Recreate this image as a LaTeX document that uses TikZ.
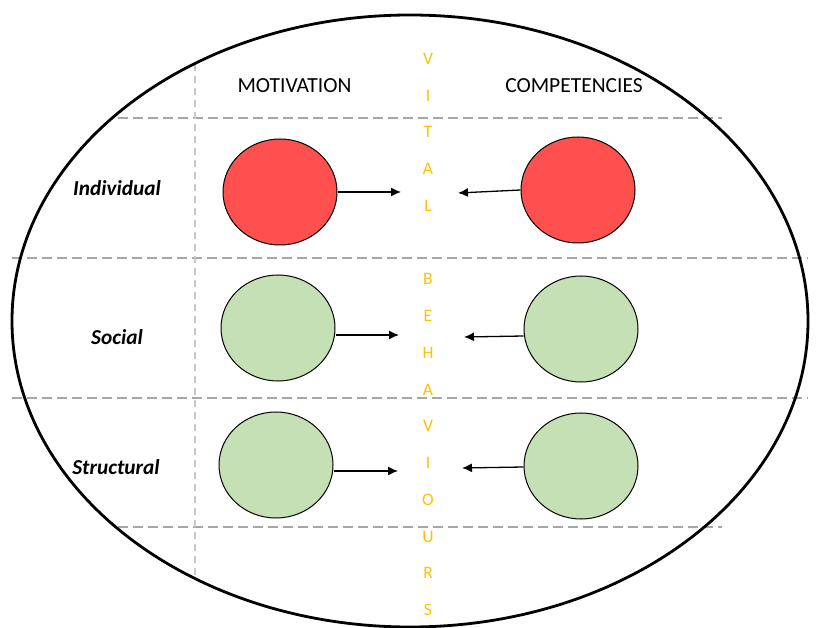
\documentclass[tikz,border=0pt]{standalone}
\usepackage{fontspec}
\setmainfont{Carlito}
\usetikzlibrary{arrows.meta,shapes.geometric}
\definecolor{redfill}{HTML}{FF5050}
\definecolor{greenfill}{HTML}{C5E0B4}
\definecolor{gold}{HTML}{FFC000}
\definecolor{dashgray}{HTML}{A6A6A6}
\definecolor{lightdash}{HTML}{C8C8C8}
\tikzset{
  blob/.style={ellipse, draw=black, line width=1pt, minimum width=114pt, minimum height=106pt, inner sep=0pt},
  redblob/.style={blob, fill=redfill},
  greenblob/.style={blob, fill=greenfill},
  arr/.style={line width=1.3pt, -{Latex[length=10pt,width=9pt]}},
  hdash/.style={dashgray, line width=1.2pt, dash pattern=on 10pt off 5pt},
  vdash/.style={lightdash, line width=1.2pt, dash pattern=on 7pt off 5pt},
  header/.style={font=\fontsize{21.5}{24}\selectfont, inner sep=0pt},
  rowlab/.style={font=\fontsize{21.3}{24}\selectfont\bfseries\itshape, inner sep=0pt},
  vlet/.style={font=\fontsize{17.5}{19}\selectfont, text=gold, inner sep=0pt},
}
\begin{document}
\begin{tikzpicture}[x=1pt,y=-1pt]
\useasboundingbox (0,0) rectangle (817,628);
% dashed grid
\draw[hdash] (118,118) -- (722,118);
\draw[hdash] (12,258) -- (808,258);
\draw[hdash] (12,398) -- (808,398);
\draw[hdash] (118,527) -- (722,527);
\draw[vdash] (195,64) -- (195,578);
% big ellipse
\draw[line width=2.8pt] (410,321) ellipse [x radius=398, y radius=306];
% headers
\node[header] (mot) at (294.5,86) {MOTIVATION};
\node[header] (comp) at (574,86) {COMPETENCIES};
% row labels
\node[rowlab] (ind) at (117,188) {Individual};
\node[rowlab] (soc) at (117,337) {Social};
\node[rowlab] (str) at (116,467) {Structural};
% blobs
\node[redblob] (m1) at (280,192) {};
\node[redblob] (c1) at (578,190) {};
\node[greenblob] (m2) at (278,328) {};
\node[greenblob] (c2) at (581,329) {};
\node[greenblob] (m3) at (276,465) {};
\node[greenblob] (c3) at (581,466) {};
% arrow tips
\coordinate (t1l) at (401,192);
\coordinate (t1r) at (458,193);
\coordinate (t2l) at (399,335);
\coordinate (t2r) at (464,337);
\coordinate (t3l) at (398,471);
\coordinate (t3r) at (462,468);
\draw[arr] (m1.east |- t1l) -- (t1l);
\draw[arr] (c1.west) -- (t1r);
\draw[arr] (m2.east |- t2l) -- (t2l);
\draw[arr] (c2.west |- 0,336) -- (t2r);
\draw[arr] (m3.east |- t3l) -- (t3l);
\draw[arr] (c3.west |- 0,467) -- (t3r);
% vertical letters
\foreach \l [count=\k from 0] in {V,I,T,A,L,{},B,E,H,A,V,I,O,U,R,S}{
  \node[vlet] (v\k) at (428,{58.7+36.75*\k}) {\l};
}
\end{tikzpicture}
\end{document}
